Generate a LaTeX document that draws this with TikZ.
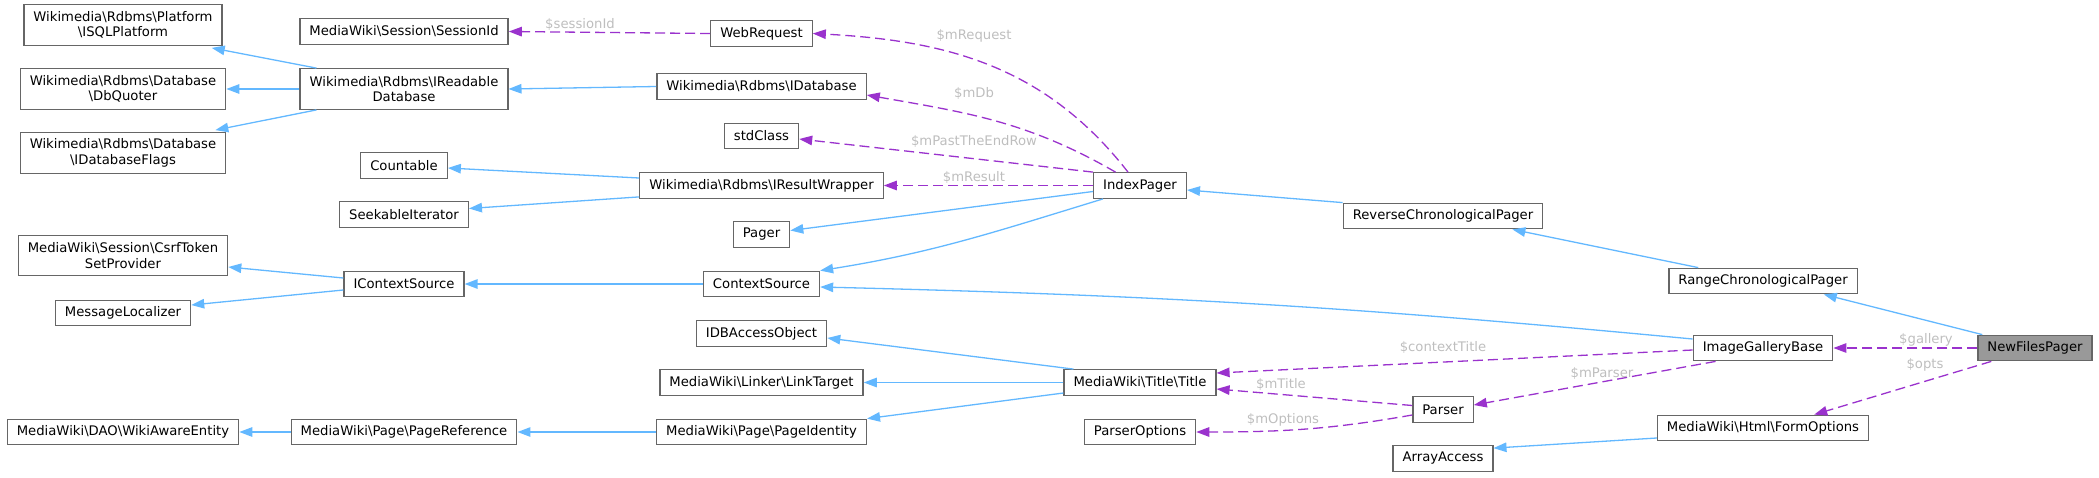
\documentclass[tikz,border=0pt]{standalone}
\usepackage{fontspec}
\setmainfont{DejaVu Sans}
\usepackage{tikz}
\usetikzlibrary{arrows.meta}
\usepackage{xcolor}
\definecolor{dxblue}{HTML}{63B8FF}
\definecolor{dxpurple}{HTML}{9A32CD}
\definecolor{dxborder}{HTML}{666666}
\definecolor{dxlabel}{HTML}{BEBEBE}
\definecolor{dxfocus}{HTML}{999999}
\newcommand{\nsep}{\textbackslash}
\tikzstyle{cls} = [draw=dxborder, fill=white, line width=0.65pt, inner xsep=4.75pt, inner ysep=2pt, minimum height=12.75pt, align=center, font=\fontsize{6.6}{7.7}\selectfont]
\tikzstyle{twoline} = [minimum height=20.25pt]
\tikzstyle{inherit} = [line width=0.65pt, color=dxblue, -{Triangle[length=6.5pt,width=4.75pt]}]
\tikzstyle{uses} = [line width=0.65pt, color=dxpurple, dash pattern=on 5pt off 2.5pt, -{Triangle[length=6.5pt,width=4.75pt]}]
\tikzstyle{lbl} = [text=dxlabel, inner sep=0pt, font=\fontsize{6.6}{7.7}\selectfont]
\begin{document}
\begin{tikzpicture}[x=0.5pt, y=-0.5pt]
\useasboundingbox (0,0) rectangle (2099,477);
% base interfaces
\node[cls, twoline] (isql) at (123,25) {Wikimedia\nsep Rdbms\nsep Platform\\\nsep ISQLPlatform};
\node[cls, twoline] (dbq) at (123,89) {Wikimedia\nsep Rdbms\nsep Database\\\nsep DbQuoter};
\node[cls, twoline] (idbf) at (123,153) {Wikimedia\nsep Rdbms\nsep Database\\\nsep IDatabaseFlags};
\node[cls, twoline] (csrf) at (123,255.5) {MediaWiki\nsep Session\nsep CsrfToken\\SetProvider};
\node[cls] (msgloc) at (123,313) {MessageLocalizer};
\node[cls] (wikiaware) at (123,432) {MediaWiki\nsep DAO\nsep WikiAwareEntity};

\node[cls] (sessid) at (404,31.5) {MediaWiki\nsep Session\nsep SessionId};
\node[cls, twoline] (irdb) at (404,89) {Wikimedia\nsep Rdbms\nsep IReadable\\Database};
\node[cls] (countable) at (404,165.5) {Countable};
\node[cls] (seekit) at (404,214.5) {SeekableIterator};
\node[cls] (ictxsrc) at (404,284) {IContextSource};
\node[cls] (pageref) at (404,432) {MediaWiki\nsep Page\nsep PageReference};

\node[cls] (webreq) at (761.5,33.5) {WebRequest};
\node[cls] (idb) at (761.5,86.5) {Wikimedia\nsep Rdbms\nsep IDatabase};
\node[cls] (stdclass) at (761.5,136) {stdClass};
\node[cls] (irw) at (761.5,185.5) {Wikimedia\nsep Rdbms\nsep IResultWrapper};
\node[cls] (pager) at (761.5,234.5) {Pager};
\node[cls] (ctxsrc) at (761.5,284) {ContextSource};
\node[cls] (idbao) at (761.5,333.5) {IDBAccessObject};
\node[cls] (linktarget) at (761.5,382.5) {MediaWiki\nsep Linker\nsep LinkTarget};
\node[cls] (pageid) at (761.5,432) {MediaWiki\nsep Page\nsep PageIdentity};

\node[cls] (indexpager) at (1140,185.5) {IndexPager};
\node[cls] (title) at (1140,382.5) {MediaWiki\nsep Title\nsep Title};
\node[cls] (parseropts) at (1140,432) {ParserOptions};

\node[cls] (revcp) at (1443,216) {ReverseChronologicalPager};
\node[cls] (parser) at (1443,409.5) {Parser};
\node[cls] (arrayaccess) at (1443,458.5) {ArrayAccess};

\node[cls] (rangecp) at (1763,281) {RangeChronologicalPager};
\node[cls] (igb) at (1763,348) {ImageGalleryBase};
\node[cls] (formopts) at (1763,428) {MediaWiki\nsep Html\nsep FormOptions};

\node[cls, fill=dxfocus] (nfp) at (2035,348) {NewFilesPager};

% inheritance
\draw[inherit] ([xshift=8.5pt]irdb.north west) -- ([xshift=-5.5pt,yshift=-1pt]isql.south east);
\draw[inherit] (irdb.west) -- (dbq.east);
\draw[inherit] ([xshift=8.5pt]irdb.south west) -- ([xshift=-5.5pt,yshift=1pt]idbf.north east);
\draw[inherit] (idb.west) -- (irdb.east);
\draw[inherit] ([yshift=3.75pt]irw.west) -- ([yshift=-1.25pt]countable.east);
\draw[inherit] ([yshift=1pt]irw.south west) -- ([yshift=3pt]seekit.east);
\draw[inherit] ([yshift=-3pt]indexpager.west) -- ([yshift=2pt]pager.east);
\draw[inherit] ([xshift=5pt]indexpager.south west) to[out=197, in=9] (ctxsrc.north east);
\draw[inherit] (revcp.north west) -- ([yshift=-2.25pt]indexpager.east);
\draw[inherit] ([xshift=15pt]rangecp.north west) -- ([xshift=-15.5pt]revcp.south east);
\draw[inherit] ([xshift=2.5pt]nfp.north west) -- ([xshift=-17pt]rangecp.south east);
\draw[inherit] (ctxsrc.west) -- (ictxsrc.east);
\draw[inherit] ([yshift=4.5pt]igb.west) to[bend right=2] ([yshift=-1.5pt]ctxsrc.east);
\draw[inherit] ([yshift=3pt]ictxsrc.west) -- ([yshift=-5.75pt]csrf.east);
\draw[inherit] ([yshift=-3pt]ictxsrc.west) -- ([yshift=4pt]msgloc.east);
\draw[inherit] ([xshift=5pt]title.north west) -- ([yshift=-2.25pt]idbao.east);
\draw[inherit] (title.west) -- (linktarget.east);
\draw[inherit] ([yshift=-5.25pt]title.west) -- (pageid.north east);
\draw[inherit] (pageid.west) -- (pageref.east);
\draw[inherit] (pageref.west) -- (wikiaware.east);
\draw[inherit] ([yshift=-5pt]formopts.west) -- ([yshift=-1.5pt]arrayaccess.north east);

% members
\draw[uses] (webreq.west) -- (sessid.east);
\draw[uses] ([xshift=-6pt]indexpager.north) to[out=128, in=357] (webreq.east);
\draw[uses] ([xshift=-12.25pt]indexpager.north) to[out=150, in=350] ([yshift=-4.25pt]idb.east);
\draw[uses] (indexpager.north west) -- ([yshift=-1.5pt]stdclass.east);
\draw[uses] (indexpager.west) -- (irw.east);
\draw[uses] (nfp.west) -- (igb.east);
\draw[uses] ([xshift=7pt]nfp.south west) -- ([xshift=-27.5pt]formopts.north east);
\draw[uses] ([yshift=-1pt]igb.west) -- ([yshift=4.75pt]title.east);
\draw[uses] ([xshift=11.5pt]igb.south west) -- ([yshift=2.25pt]parser.east);
\draw[uses] ([yshift=2pt]parser.west) -- ([yshift=-3.25pt]title.east);
\draw[uses] ([yshift=-2.75pt]parser.west) to[out=190, in=0] (parseropts.east);

\node[lbl] (lsess) at (580,24) {\$sessionId};
\node[lbl] (lreq) at (974,36) {\$mRequest};
\node[lbl] (ldb) at (974,93) {\$mDb};
\node[lbl] (lpast) at (974,141) {\$mPastTheEndRow};
\node[lbl] (lres) at (974,177) {\$mResult};
\node[lbl] (lgal) at (1926,340) {\$gallery};
\node[lbl] (lopts) at (1925,365) {\$opts};
\node[lbl] (lctx) at (1443,347) {\$contextTitle};
\node[lbl] (lpars) at (1602,373) {\$mParser};
\node[lbl] (ltitle) at (1281,384) {\$mTitle};
\node[lbl] (lopt) at (1283,420) {\$mOptions};
\end{tikzpicture}
\end{document}
